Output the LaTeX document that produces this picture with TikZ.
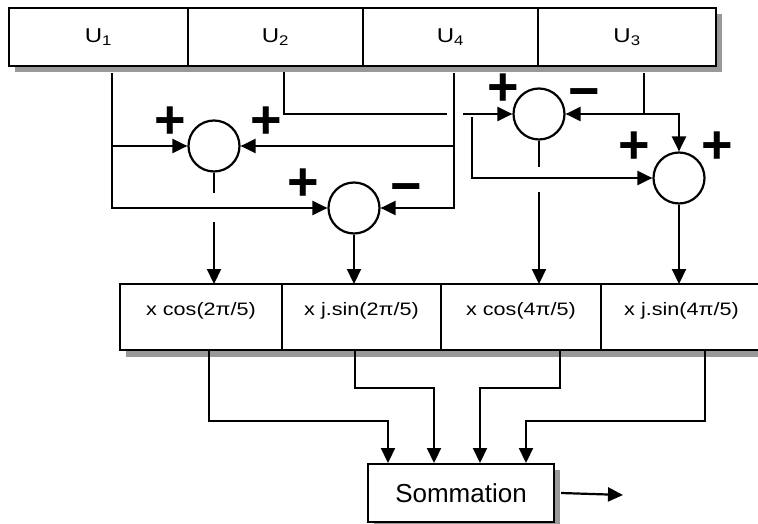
\documentclass[tikz,border=0pt]{standalone}
\usepackage{fontspec}
\setmainfont{Liberation Sans}
\newfontfamily\wideSans[FakeStretch=1.2]{Liberation Sans}
\usetikzlibrary{arrows.meta, positioning}
\definecolor{shadowGray}{RGB}{153,153,153}

\begin{document}
\begin{tikzpicture}[x=1pt, y=-1pt, line width=2.2pt,
	>={Triangle[length=15pt, width=14pt]},
	cell/.style={draw, fill=white, outer sep=0pt, inner sep=0pt, minimum height=58pt,
		font=\wideSans\fontsize{20}{24}\selectfont},
	mul/.style={draw, fill=white, outer sep=0pt, inner sep=0pt, minimum height=66pt,
		text height=13pt, text depth=16pt, font=\wideSans\fontsize{18}{22}\selectfont},
	adder/.style={draw, circle, minimum size=51pt, inner sep=0pt},
	sign/.style={inner sep=0pt, font=\bfseries\fontsize{54}{54}\selectfont},
	stub/.style={line width=1.4pt}]

	\useasboundingbox (0,0) rectangle (758,524);

% Define coordinates.

	%outputs of the input row
	\coordinate (u1Out) at (112,73);
	\coordinate (u2Out) at (284,72);
	\coordinate (u4Out) at (454,73);
	\coordinate (u3Out) at (644,73);

	%U2 line hopping over U4
	\coordinate (u2Gap) at (447,114);
	\coordinate (u2Back) at (463,114);
	\coordinate (u2Drop) at (472,117);

	%breaks where adder outputs cross
	\coordinate (aBreak) at (214,193);
	\coordinate (aResume) at (214,222);
	\coordinate (cBreak) at (539,167);
	\coordinate (cResume) at (539,192);

	%multiplier outputs
	\coordinate (outA) at (209,350);
	\coordinate (outB) at (355,350);
	\coordinate (outC) at (560,350);
	\coordinate (outD) at (705,350);

	%inputs of the summation
	\coordinate (inA) at (388,463);
	\coordinate (inB) at (434,463);
	\coordinate (inC) at (480,463);
	\coordinate (inD) at (526,463);
	\coordinate (result) at (623,495);

% Draw shadows.

	\fill[shadowGray] (15,14) rectangle (722,72);
	\fill[shadowGray] (126,290) rectangle (768,357);
	\fill[shadowGray] (374,470) rectangle (560,528);

% Draw boxes.

	\node[cell, minimum width=179pt] (u1) at (98.5,37) {U\textsubscript{1}};
	\node[cell, minimum width=175pt, right=0pt of u1] (u2) {U\textsubscript{2}};
	\node[cell, minimum width=175pt, right=0pt of u2] (u4) {U\textsubscript{4}};
	\node[cell, minimum width=178pt, right=0pt of u4] (u3) {U\textsubscript{3}};

	\node[mul, minimum width=162pt] (mulA) at (201,317) {x cos(2π/5)};
	\node[mul, minimum width=159pt, right=0pt of mulA] (mulB) {x j.sin(2π/5)};
	\node[mul, minimum width=160pt, right=0pt of mulB] (mulC) {x cos(4π/5)};
	\node[mul, minimum width=161pt, right=0pt of mulC] (mulD) {x j.sin(4π/5)};

	\node[draw, fill=white, minimum width=186pt, minimum height=58pt,
		font=\fontsize{26}{30}\selectfont] (total) at (461,493) {Sommation};

% Draw adders.

	\node[adder] (sumA) at (214,146) {};
	\node[adder] (sumB) at (354,208) {};
	\node[adder] (sumC) at (539,114) {};
	\node[adder] (sumD) at (679,178) {};

	\node[sign] (plusA1) at (170,123) {+};
	\node[sign] (plusA2) at (266,123) {+};
	\node[sign] (plusB) at (303,185) {+};
	\node[sign] (minusB) at (406,194) {−};
	\node[sign] (plusC) at (503,90) {+};
	\node[sign] (minusC) at (584,99) {−};
	\node[sign] (plusD1) at (634,148) {+};
	\node[sign] (plusD2) at (717,148) {+};

% Draw lines.

	\draw[->] (u1Out) |- (sumB);
	\draw[->] (u1Out |- sumA) -- (sumA);
	\draw[->] (u4Out) |- (sumB);
	\draw[->] (u4Out |- sumA) -- (sumA);

	\draw[stub] (u2Out) |- (u2Gap);
	\draw[->] (u2Back) -- (sumC);
	\draw[->] (u2Drop) |- (sumD);

	\draw[->] (u3Out) |- (sumC);
	\draw[->] (u3Out |- sumC) -| (sumD);

	\draw[stub] (sumA) -- (aBreak);
	\draw[->] (aResume) -- (aResume |- mulA.north);
	\draw[->] (sumB) -- (sumB |- mulB.north);
	\draw[stub] (sumC) -- (cBreak);
	\draw[->] (cResume) -- (cResume |- mulC.north);
	\draw[->] (sumD) -- (sumD |- mulD.north);

	\draw[->] (outA) -- ++(0,71) -| (inA);
	\draw[->] (outB) -- ++(0,38) -| (inB);
	\draw[->] (outC) -- ++(0,38) -| (inC);
	\draw[->] (outD) -- ++(0,71) -| (inD);

	\draw[->] ([xshift=6pt]total.east) -- (result);

\end{tikzpicture}
\end{document}
